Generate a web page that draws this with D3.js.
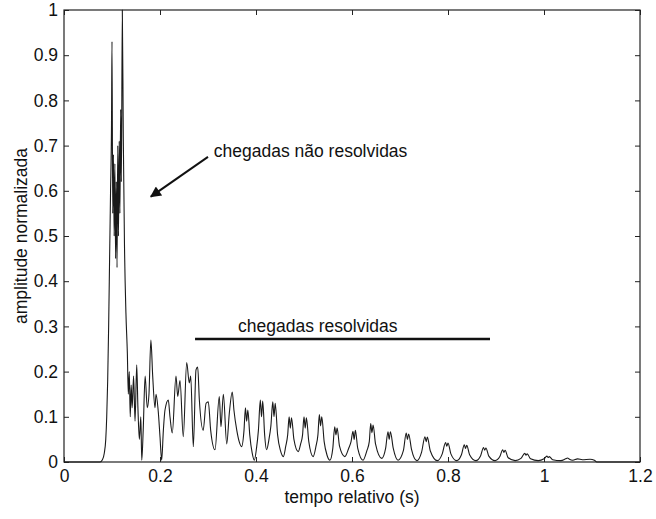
<!DOCTYPE html>
<html>
<head>
<meta charset="utf-8">
<script src="https://cdn.jsdelivr.net/npm/d3@7"></script>
<style>
  body { margin: 0; background: #fff; }
  svg { font-family: "Liberation Sans", Arial, sans-serif; }
</style>
</head>
<body>
<svg id="chart"></svg>
<script>
// tempo relativo (s) e amplitude normalizada
const tempo = [
  0.000, 0.075, 0.080, 0.084, 0.087, 0.089, 0.091, 0.093, 0.095, 0.097, 0.099,
  0.100, 0.1015, 0.103, 0.1045, 0.106, 0.1075, 0.109, 0.1105, 0.112, 0.1135,
  0.115, 0.1165, 0.118, 0.1195, 0.1215, 0.1235, 0.126, 0.129, 0.132,
  0.134, 0.136, 0.138, 0.140, 0.142, 0.145, 0.148, 0.1515, 0.154, 0.157, 0.160,
  0.162, 0.165, 0.169, 0.1735, 0.177, 0.181, 0.1848, 0.1896, 0.1917, 0.1965,
  0.200, 0.2035, 0.207, 0.2104, 0.2173, 0.2208, 0.2256, 0.2333, 0.2369, 0.2417,
  0.2485, 0.2556, 0.261, 0.264, 0.2694, 0.275, 0.2785, 0.282, 0.290, 0.296,
  0.3006, 0.3056, 0.3146, 0.3235, 0.327, 0.332, 0.339, 0.3444, 0.3506, 0.354,
  0.360, 0.365, 0.370, 0.375, 0.378, 0.3805, 0.383, 0.387, 0.392, 0.3965,
  0.401, 0.405, 0.409, 0.4115, 0.414, 0.418, 0.422, 0.427, 0.431, 0.435,
  0.4375, 0.440, 0.445, 0.451, 0.457, 0.462, 0.466, 0.469, 0.4715, 0.474,
  0.479, 0.488, 0.493, 0.497, 0.500, 0.5025, 0.505, 0.510, 0.519, 0.525,
  0.529, 0.532, 0.5345, 0.537, 0.542, 0.548, 0.554, 0.560, 0.564, 0.5665,
  0.569, 0.574, 0.585, 0.593, 0.598, 0.602, 0.6045, 0.607, 0.612, 0.623,
  0.631, 0.636, 0.639, 0.6415, 0.644, 0.649, 0.662, 0.670, 0.675, 0.6775,
  0.680, 0.686, 0.696, 0.707, 0.713, 0.7155, 0.718, 0.724, 0.735, 0.745,
  0.752, 0.7545, 0.757, 0.763, 0.778, 0.788, 0.795, 0.7975, 0.800, 0.806,
  0.818, 0.828, 0.834, 0.8365, 0.839, 0.845, 0.858, 0.868, 0.874, 0.8765,
  0.879, 0.885, 0.898, 0.908, 0.914, 0.9165, 0.919, 0.925, 0.940, 0.952,
  0.960, 0.9625, 0.965, 0.972, 0.988, 1.000, 1.006, 1.0085, 1.011, 1.018,
  1.035, 1.045, 1.049, 1.053, 1.060, 1.070, 1.080, 1.096, 1.105, 1.110, 1.200
];

const amplitude = [
  0, 0, 0.005, 0.02, 0.05, 0.10, 0.18, 0.30, 0.45, 0.60, 0.75,
  0.93, 0.55, 0.68, 0.50, 0.66, 0.45, 0.62, 0.43, 0.70, 0.50,
  0.71, 0.55, 0.78, 0.62, 1.00, 0.72, 0.48, 0.33, 0.24,
  0.15, 0.20, 0.10, 0.17, 0.12, 0.19, 0.09, 0.215, 0.12, 0.05, 0.10,
  0.004, 0.07, 0.19, 0.12, 0.15, 0.27, 0.19, 0.12, 0.15, 0.11,
  0.056, 0.004, 0.07, 0.115, 0.137, 0.10, 0.064, 0.19, 0.145, 0.18,
  0.056, 0.22, 0.175, 0.19, 0.034, 0.204, 0.21, 0.137, 0.07, 0.13,
  0.133, 0.07, 0.027, 0.145, 0.078, 0.15, 0.04, 0.108, 0.155, 0.115,
  0.07, 0.045, 0.034, 0.07, 0.12, 0.09, 0.115, 0.06, 0.02, 0.004,
  0.03, 0.07, 0.137, 0.10, 0.135, 0.06, 0.027, 0.05, 0.08, 0.133,
  0.10, 0.13, 0.06, 0.025, 0.012, 0.035, 0.06, 0.10, 0.075, 0.098,
  0.05, 0.023, 0.04, 0.06, 0.10, 0.075, 0.098, 0.045, 0.012, 0.035,
  0.06, 0.105, 0.08, 0.10, 0.045, 0.015, 0.004, 0.03, 0.078, 0.06,
  0.075, 0.035, 0.012, 0.03, 0.045, 0.068, 0.05, 0.07, 0.03, 0.004,
  0.025, 0.045, 0.085, 0.065, 0.082, 0.04, 0.008, 0.03, 0.067, 0.05,
  0.067, 0.03, 0.004, 0.025, 0.064, 0.05, 0.062, 0.028, 0.003, 0.022,
  0.056, 0.045, 0.055, 0.025, 0.003, 0.018, 0.043, 0.035, 0.042, 0.018,
  0.003, 0.016, 0.038, 0.03, 0.037, 0.016, 0.003, 0.014, 0.032, 0.026,
  0.031, 0.013, 0.003, 0.012, 0.027, 0.021, 0.026, 0.01, 0.003, 0.008,
  0.019, 0.015, 0.018, 0.007, 0.003, 0.007, 0.013, 0.01, 0.012, 0.005,
  0.003, 0.007, 0.009, 0.006, 0.004, 0.007, 0.005, 0.006, 0.004, 0, 0
];

const xTicks = [0, 0.2, 0.4, 0.6, 0.8, 1, 1.2];
const yTicks = [0, 0.1, 0.2, 0.3, 0.4, 0.5, 0.6, 0.7, 0.8, 0.9, 1];

// anotações em coordenadas dos dados
const notaNaoResolvidas = { text: "chegadas não resolvidas", t: 0.312, a: 0.675 };
const setaNaoResolvidas = { t0: 0.300, a0: 0.675, t1: 0.181, a1: 0.587 };
const notaResolvidas = { text: "chegadas resolvidas", t: 0.3625, a: 0.288 };
const barraResolvidas = { t0: 0.273, t1: 0.8875, a: 0.272 };

const width = 656, height = 519;
const margin = { top: 10, right: 16, bottom: 57, left: 64 };

let svg = d3.select("#chart")
    .attr("width", width)
    .attr("height", height);

let x = d3.scaleLinear()
          .domain([0, 1.2])
          .range([margin.left, width - margin.right]);

let y = d3.scaleLinear()
          .domain([0, 1])
          .range([height - margin.bottom, margin.top]);

let fmt = d => d3.format("~g")(d);
let tick = 5;
let fontSize = 17.5;

// eixos com marcas para dentro nos quatro lados (estilo MATLAB)
function styleAxis(g) {
  g.select(".domain").remove();
  g.selectAll(".tick line").attr("stroke", "#222");
  g.selectAll("text")
      .attr("font-size", fontSize)
      .attr("fill", "#111");
}

svg.append("g")
    .attr("transform", `translate(0,${y(0)})`)
    .call(d3.axisBottom(x).tickValues(xTicks).tickFormat(fmt)
            .tickSizeInner(-tick).tickSizeOuter(0).tickPadding(8))
    .call(styleAxis);

svg.append("g")
    .attr("transform", `translate(0,${y(1)})`)
    .call(d3.axisTop(x).tickValues(xTicks).tickFormat("")
            .tickSizeInner(-tick).tickSizeOuter(0))
    .call(styleAxis);

svg.append("g")
    .attr("transform", `translate(${x(0)},0)`)
    .call(d3.axisLeft(y).tickValues(yTicks).tickFormat(fmt)
            .tickSizeInner(-tick).tickSizeOuter(0).tickPadding(6))
    .call(styleAxis);

svg.append("g")
    .attr("transform", `translate(${x(1.2)},0)`)
    .call(d3.axisRight(y).tickValues(yTicks).tickFormat("")
            .tickSizeInner(-tick).tickSizeOuter(0))
    .call(styleAxis);

// caixa
svg.append("rect")
    .attr("x", x(0))
    .attr("y", y(1))
    .attr("width", x(1.2) - x(0))
    .attr("height", y(0) - y(1))
    .attr("fill", "none")
    .attr("stroke", "#222")
    .attr("stroke-width", 1.2);

// sinal
let line = d3.line()
    .x((d, i) => x(tempo[i]))
    .y(d => y(d))
    .curve(d3.curveMonotoneX);

svg.append("path")
    .datum(amplitude)
    .attr("d", line)
    .attr("fill", "none")
    .attr("stroke", "#1a1a1a")
    .attr("stroke-width", 1.1)
    .attr("stroke-linejoin", "round");

// rótulos dos eixos
svg.append("text")
    .attr("x", x(0.6))
    .attr("y", 503)
    .attr("text-anchor", "middle")
    .attr("font-size", fontSize)
    .attr("fill", "#111")
    .text("tempo relativo (s)");

svg.append("text")
    .attr("transform", `translate(27,${y(0.5)}) rotate(-90)`)
    .attr("text-anchor", "middle")
    .attr("font-size", fontSize)
    .attr("fill", "#111")
    .text("amplitude normalizada");

// anotações
svg.append("defs").append("marker")
    .attr("id", "seta")
    .attr("viewBox", "0 0 10 10")
    .attr("refX", 9)
    .attr("refY", 5)
    .attr("markerWidth", 6.5)
    .attr("markerHeight", 5.5)
    .attr("orient", "auto")
  .append("path")
    .attr("d", "M0,0L10,5L0,10Z")
    .attr("fill", "#111");

svg.append("line")
    .attr("x1", x(setaNaoResolvidas.t0))
    .attr("y1", y(setaNaoResolvidas.a0))
    .attr("x2", x(setaNaoResolvidas.t1))
    .attr("y2", y(setaNaoResolvidas.a1))
    .attr("stroke", "#111")
    .attr("stroke-width", 2)
    .attr("marker-end", "url(#seta)");

svg.append("text")
    .attr("x", x(notaNaoResolvidas.t))
    .attr("y", y(notaNaoResolvidas.a))
    .attr("font-size", fontSize)
    .attr("fill", "#111")
    .text(notaNaoResolvidas.text);

svg.append("line")
    .attr("x1", x(barraResolvidas.t0))
    .attr("x2", x(barraResolvidas.t1))
    .attr("y1", y(barraResolvidas.a))
    .attr("y2", y(barraResolvidas.a))
    .attr("stroke", "#111")
    .attr("stroke-width", 2.5);

svg.append("text")
    .attr("x", x(notaResolvidas.t))
    .attr("y", y(notaResolvidas.a))
    .attr("font-size", fontSize)
    .attr("fill", "#111")
    .text(notaResolvidas.text);
</script>
</body>
</html>
